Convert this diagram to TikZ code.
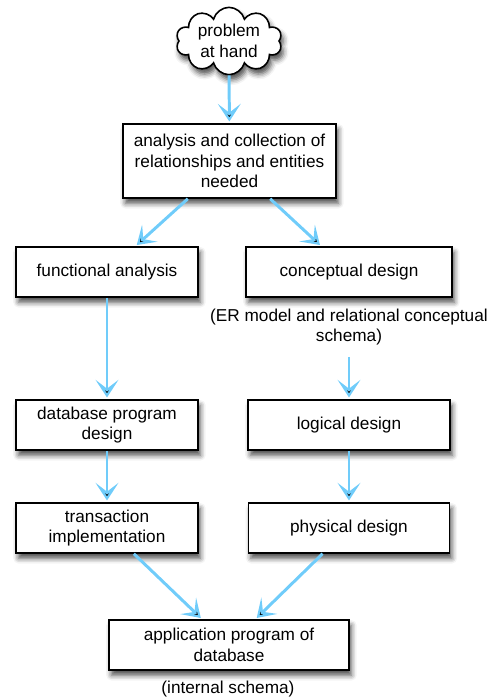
\documentclass[tikz,border=0pt]{standalone}
\usepackage{fontspec}
\setmainfont{Liberation Sans}
\usetikzlibrary{shapes.symbols,shadows.blur,arrows.meta}
\definecolor{flowblue}{RGB}{112,204,250}

\begin{document}
\begin{tikzpicture}[x=0.02cm,y=-0.02cm,
  every node/.style={font=\fontsize{9.8}{11.8}\selectfont,align=center},
  softshadow/.style={blur shadow={shadow xshift=1.4pt,shadow yshift=-3pt,shadow blur radius=3pt,shadow opacity=70}},
  stage/.style={shape=rectangle,draw=black,line width=0.9pt,fill=white,minimum height=1cm,softshadow},
  flow/.style={draw=flowblue,line width=1.7pt,-{Stealth[length=10pt,width=13pt,inset=5pt]},shorten >=1pt}]
\useasboundingbox (0,0) rectangle (492,698);

\node[shape=cloud,draw=black,line width=0.9pt,fill=white,cloud puffs=10,aspect=1.8,inner sep=0pt,
  minimum width=2.12cm,minimum height=1.2cm,softshadow]
  (problem) at (229,41) {problem\\at hand};
\node[stage,minimum width=4.26cm,minimum height=1.48cm] (analysis) at (229.5,161) {analysis and collection of\\relationships and entities\\needed};

\node[stage,minimum width=3.64cm] (functional) at (107,272) {functional analysis};
\node[stage,minimum width=3.64cm] (dbprogram) at (107,425) {database program\\design};
\node[stage,minimum width=3.64cm] (transaction) at (107,528) {transaction\\implementation};

\node[stage,minimum width=4.12cm] (conceptual) at (349,272) {conceptual design};
\node (ermodel) at (349,327) {(ER model and relational conceptual\\schema)};
\node[stage,minimum width=4.04cm] (logical) at (349,425) {logical design};
\node[stage,minimum width=4.02cm] (physical) at (349,528) {physical design};

\node[stage,minimum width=4.8cm] (application) at (229,645) {application program of\\database};
\node (internal) at (228,689) {(internal schema)};

\path [flow] (problem) edge (analysis);
\path [flow] (analysis) edge (functional);
\path [flow] (analysis) edge (conceptual);
\path [flow] (functional) edge (dbprogram);
\path [flow] (dbprogram) edge (transaction);
\path [flow,shorten <=3pt] (ermodel) edge (logical);
\path [flow] (logical) edge (physical);
\path [flow] (transaction) edge (application);
\path [flow] (physical) edge (application);
\end{tikzpicture}
\end{document}
